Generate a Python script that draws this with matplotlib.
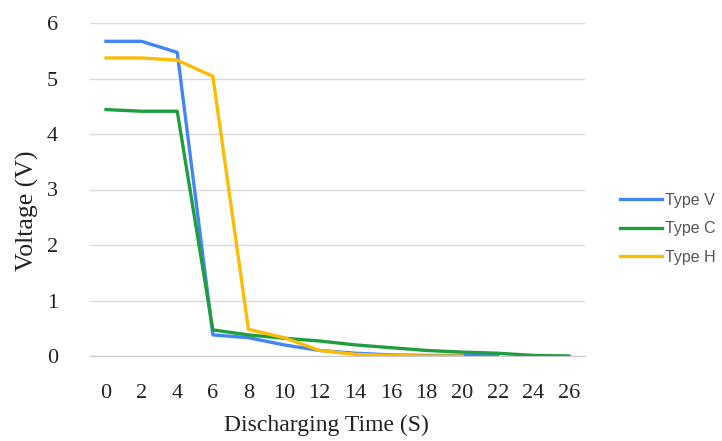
import matplotlib
matplotlib.use("Agg")
import matplotlib.pyplot as plt
from matplotlib.lines import Line2D

time_labels = ["0", "2", "4", "6", "8", "10", "12", "14", "16", "18", "20", "22", "24", "26"]
type_v = [5.67, 5.67, 5.47, 0.38, 0.33, 0.20, 0.10, 0.05, 0.02, 0.01, 0.01, 0.01]
type_c = [4.44, 4.41, 4.41, 0.47, 0.38, 0.32, 0.27, 0.20, 0.15, 0.10, 0.07, 0.05, 0.01, 0.0]
type_h = [5.37, 5.37, 5.33, 5.04, 0.48, 0.33, 0.10, 0.03, 0.01, 0.0, 0.0]
series_names = ["Type V", "Type C", "Type H"]
colors = ["#4285F4", "#1E9E3E", "#FBBC04"]

fig = plt.figure(figsize=(7.22, 4.41), dpi=100)
ax = fig.add_axes([90/722, 1-356/441, (585-90)/722, (356-23)/441])

for vals, name, c in zip([type_v, type_c, type_h], series_names, colors):
    ax.plot(range(len(vals)), vals, color=c, lw=2.4, label=name, solid_joinstyle="round")

ax.set_xlim(-0.45, len(time_labels) - 0.55)
ax.set_ylim(0, 6)
ax.set_xticks(range(len(time_labels)))
ax.set_xticklabels(time_labels)
ax.set_yticks(range(7))
serif = "Liberation Serif"
for lab in ax.get_xticklabels() + ax.get_yticklabels():
    lab.set_fontfamily(serif)
    lab.set_fontsize(16)
    lab.set_color("#222222")
ax.tick_params(axis="x", length=0, pad=20)
ax.tick_params(axis="y", length=0, pad=23)
ax.grid(axis="y", color="#d9d9d9", lw=1)
ax.set_axisbelow(True)
for s in ["top", "right", "left"]:
    ax.spines[s].set_visible(False)
ax.spines["bottom"].set_color("#c8c8c8")
ax.set_xlabel("Discharging Time (S)", fontfamily=serif, fontsize=17, color="#222222", va="center")
ax.xaxis.set_label_coords((326-90)/495, (356-425)/333)
ax.set_ylabel("Voltage (V)", fontfamily=serif, fontsize=18.5, color="#222222", va="center")
ax.yaxis.set_label_coords((27-90)/495, (356-211)/333)

handles = [Line2D([0], [0], color=c, lw=2.4) for c in colors]
fig.legend(handles, series_names, loc="center left", bbox_to_anchor=(612/722, 1-229/441),
           frameon=False, prop={"family": "Liberation Sans", "size": 11.5},
           labelcolor="#555555", handlelength=2.6, handletextpad=0.2, labelspacing=0.85,
           borderpad=0)

fig.savefig("out.png", dpi=100)
